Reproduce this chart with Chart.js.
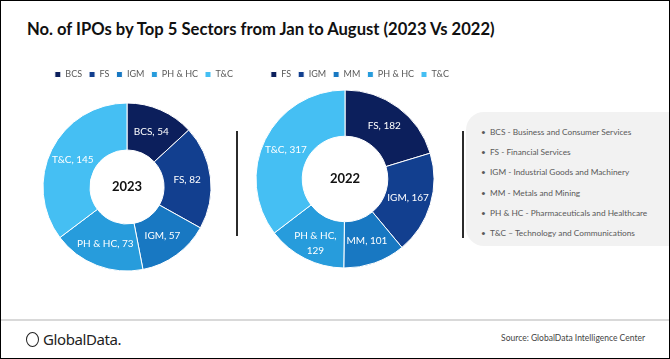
<!DOCTYPE html>
<html>
<head>
<meta charset="utf-8">
<script src="https://cdn.jsdelivr.net/npm/chart.js@4"></script>
<style>
  html, body { margin: 0; padding: 0; background: #fff; }
  #frame {
    position: relative; width: 670px; height: 359px; box-sizing: border-box;
    border: 1px solid #000; overflow: hidden; font-family: Lato, 'Open Sans', sans-serif;
  }
  #title { position: absolute; left: 26px; top: 18px; font-size: 16.6px; font-weight: bold; color: #111; white-space: nowrap; }
  .chartBox { position: absolute; }
  .divider { position: absolute; width: 2px; background: #2b2b2b; }
  #glossBox {
    position: absolute; left: 465px; top: 111px; width: 220px; height: 134px;
    background: #f2f2f2; border-radius: 18px 0 0 18px;
  }
  #gloss { position: absolute; left: 480px; top: 126px; margin: 0; padding: 0; list-style: none; }
  #gloss li { font-size: 8.3px; color: #595959; height: 20.2px; white-space: nowrap; }
  #gloss li span { display: inline-block; width: 9px; }
  #footLine { position: absolute; left: 0; top: 318px; width: 670px; height: 2px; background: #d9d9d9; }
  #logo { position: absolute; left: 25px; top: 328px; font-size: 15px; color: #222; white-space: nowrap; font-family: 'Noto Sans', Lato, sans-serif; letter-spacing: -0.4px; }
  #logo i { display: inline-block; width: 11px; height: 13px; border: 1.5px solid #222; border-radius: 50%; vertical-align: -2px; margin-right: 4px; }
  #source { position: absolute; right: 24px; top: 332px; font-size: 8.5px; color: #444; white-space: nowrap; }
</style>
</head>
<body>
<div id="frame">
  <div id="title">No. of IPOs by Top 5 Sectors from Jan to August (2023 Vs 2022)</div>
  <div class="chartBox" id="box2023" style="left:13px; top:62px; width:226px; height:222px;"><canvas id="c2023"></canvas></div>
  <div class="chartBox" id="box2022" style="left:233px; top:62px; width:222px; height:206px;"><canvas id="c2022"></canvas></div>
  <div class="divider" style="left:235px; top:130px; height:105px;"></div>
  <div id="glossBox"></div>
  <div class="divider" style="left:461px; top:130px; height:107px;"></div>
  <ul id="gloss"></ul>
  <div id="footLine"></div>
  <div id="logo"><i></i>GlobalData.</div>
  <div id="source">Source: GlobalData Intelligence Center</div>
</div>
<script>
// data
const labels2023 = ['BCS', 'FS', 'IGM', 'PH & HC', 'T&C'];
const values2023 = [54, 82, 57, 73, 145];
const labels2022 = ['FS', 'IGM', 'MM', 'PH & HC', 'T&C'];
const values2022 = [182, 167, 101, 129, 317];
const sliceColors = ['#0c1f5c', '#123f8f', '#1878c2', '#279cdc', '#45bff3'];
const glossary = [
    'BCS - Business and Consumer Services',
    'FS - Financial Services',
    'IGM - Industrial Goods and Machinery',
    'MM - Metals and Mining',
    'PH & HC - Pharmaceuticals and Healthcare',
    'T&C \u2013 Technology and Communications'
];

const glossList = document.getElementById('gloss');
glossary.forEach(t => {
    const li = document.createElement('li');
    li.innerHTML = '<span>\u2022</span>';
    li.appendChild(document.createTextNode(t));
    glossList.appendChild(li);
});

Chart.defaults.font.family = 'Lato, "Open Sans", sans-serif';

// slice labels "name, value" at the middle of each arc
const sliceLabels = {
    id: 'sliceLabels',
    afterDatasetsDraw(chart, args, opts) {
        const ctx = chart.ctx;
        const meta = chart.getDatasetMeta(0);
        const ds = chart.data.datasets[0];
        ctx.save();
        ctx.fillStyle = '#fff';
        ctx.font = '10px ' + Chart.defaults.font.family;
        ctx.textAlign = 'center';
        ctx.textBaseline = 'middle';
        meta.data.forEach((arc, i) => {
            const p = arc.tooltipPosition();
            const name = chart.data.labels[i];
            const val = ds.data[i];
            if ((opts.wrap || []).includes(name)) {
                ctx.fillText(name + ',', p.x, p.y - 2);
                ctx.fillText(String(val), p.x, p.y + 13);
            } else {
                ctx.fillText(name + ', ' + val, p.x, p.y);
            }
        });
        ctx.restore();
    }
};

const centerText = {
    id: 'centerText',
    afterDatasetsDraw(chart, args, opts) {
        const arc = chart.getDatasetMeta(0).data[0];
        if (!arc) return;
        const ctx = chart.ctx;
        ctx.save();
        ctx.fillStyle = '#111';
        ctx.font = 'bold 13px ' + Chart.defaults.font.family;
        ctx.textAlign = 'center';
        ctx.textBaseline = 'middle';
        ctx.fillText(opts.text, arc.x, arc.y);
        ctx.restore();
    }
};

function makeDonut(canvasId, labels, values, year, radius, wrap) {
    return new Chart(document.getElementById(canvasId), {
        type: 'doughnut',
        data: {
            labels: labels,
            datasets: [{
                data: values,
                backgroundColor: sliceColors,
                borderColor: '#ffffff',
                borderWidth: 1
            }]
        },
        options: {
            responsive: true,
            maintainAspectRatio: false,
            animation: false,
            radius: radius,
            cutout: 43,
            layout: { padding: 0 },
            plugins: {
                legend: {
                    position: 'top',
                    align: 'end',
                    labels: {
                        boxWidth: 6,
                        boxHeight: 6,
                        padding: 7,
                        color: '#595959',
                        font: { size: 9 }
                    }
                },
                tooltip: { enabled: false },
                sliceLabels: { wrap: wrap },
                centerText: { text: year }
            }
        },
        plugins: [sliceLabels, centerText]
    });
}

makeDonut('c2023', labels2023, values2023, '2023', 84, []);
makeDonut('c2022', labels2022, values2022, '2022', 89, ['PH & HC']);
</script>
</body>
</html>
